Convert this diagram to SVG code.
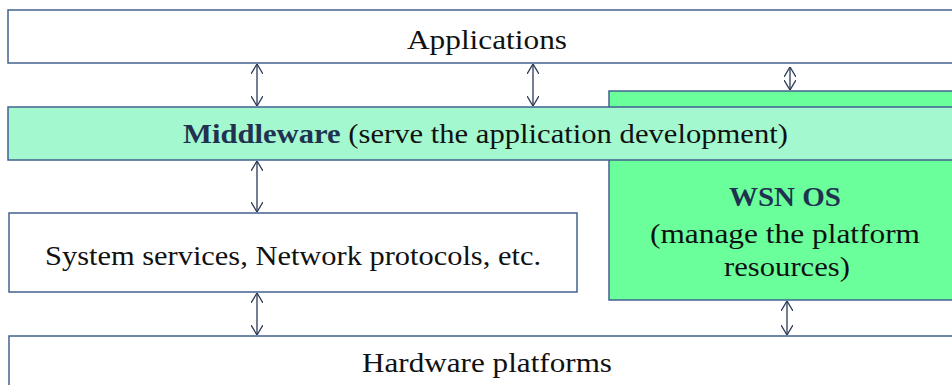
<svg xmlns="http://www.w3.org/2000/svg" width="952" height="385" viewBox="0 0 952 385">
<defs>
<marker id="ah" viewBox="0 0 10 12" refX="10" refY="6" markerWidth="10" markerHeight="12" markerUnits="userSpaceOnUse" orient="auto-start-reverse">
<path d="M0,0 L10,6 L0,12" fill="none" stroke="#2b3a55" stroke-width="1.3"/>
</marker>
</defs>
<style>
.box{stroke:#41628f;stroke-width:1.5}
.t{font-family:"Liberation Serif","Times New Roman",serif;font-size:28px;fill:#111}
.b{font-weight:bold;fill:#1f3350}
.c{stroke:#2b3a55;stroke-width:1.3;fill:none;marker-start:url(#ah);marker-end:url(#ah)}
</style>
<rect width="952" height="385" fill="#fff"/>
<g id="applications">
<rect class="box" x="8" y="10" width="960" height="53" fill="#fff"/>
<text class="t" x="487" y="49" text-anchor="middle" textLength="160" lengthAdjust="spacingAndGlyphs">Applications</text>
</g>
<g id="wsnos">
<rect class="box" x="609" y="91" width="360" height="209" fill="#6bff9b"/>
<text class="t b" x="785" y="206" text-anchor="middle" textLength="112" lengthAdjust="spacingAndGlyphs">WSN OS</text>
<text class="t" x="785" y="243" text-anchor="middle" textLength="270" lengthAdjust="spacingAndGlyphs">(manage the platform</text>
<text class="t" x="787" y="276" text-anchor="middle" textLength="126" lengthAdjust="spacingAndGlyphs">resources)</text>
</g>
<g id="middleware">
<rect class="box" x="8" y="107" width="960" height="53" fill="#a4f8d0"/>
<text class="t" x="183" y="143" textLength="605" lengthAdjust="spacingAndGlyphs"><tspan class="b">Middleware</tspan> (serve the application development)</text>
</g>
<g id="services">
<rect class="box" x="9" y="213" width="568" height="79" fill="#fff"/>
<text class="t" x="293" y="265" text-anchor="middle" textLength="496" lengthAdjust="spacingAndGlyphs">System services, Network protocols, etc.</text>
</g>
<g id="hardware">
<rect class="box" x="9" y="336" width="960" height="60" fill="#fff"/>
<text class="t" x="487" y="372" text-anchor="middle" textLength="250" lengthAdjust="spacingAndGlyphs">Hardware platforms</text>
</g>
<g id="connectors">
<line class="c" x1="257" y1="64" x2="257" y2="106"/>
<line class="c" x1="533" y1="64" x2="533" y2="106"/>
<line class="c" x1="790" y1="67" x2="790" y2="90"/>
<line class="c" x1="257" y1="161" x2="257" y2="212"/>
<line class="c" x1="257" y1="293" x2="257" y2="335"/>
<line class="c" x1="787" y1="301" x2="787" y2="335"/>
</g>
</svg>
